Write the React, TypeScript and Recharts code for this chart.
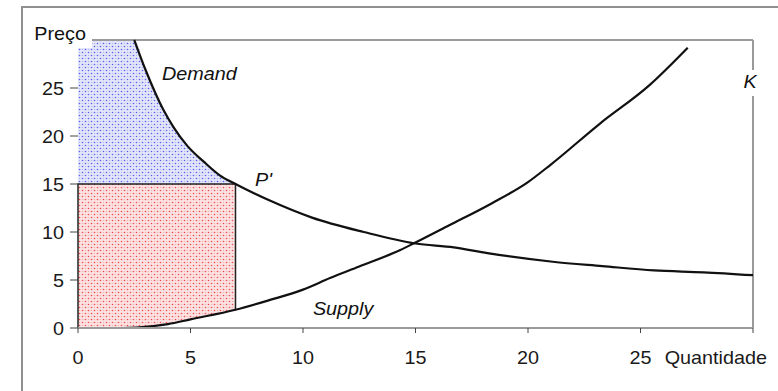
import {
  Area,
  ComposedChart,
  Line,
  ReferenceLine,
  Scatter,
  XAxis,
  YAxis,
} from 'recharts'

// demand curve (quantity, price)
const demandQty = [2.5, 3, 3.8, 4.25, 4.85, 5.6, 6.3, 7, 8.5, 10.4, 12.7, 15, 16.7, 18.2, 21.1, 23.3, 25.6, 27.8, 30]
const demandPrice = [30, 26.9, 22.7, 20.9, 19.0, 17.3, 15.9, 15, 13.3, 11.5, 10, 8.8, 8.4, 7.8, 6.9, 6.45, 6, 5.8, 5.5]

// supply curve (quantity, price)
const supplyQty = [0, 1, 2, 2.6, 4, 5, 7, 8.5, 10, 11.2, 12.5, 14.3, 15, 16.5, 18.4, 20, 21, 23.2, 25.4, 27.1]
const supplyPrice = [0, 0, 0, 0.05, 0.4, 0.9, 1.9, 2.9, 4, 5.2, 6.4, 8.1, 8.9, 10.7, 13, 15.2, 17, 21.3, 25.3, 29.2]

// price point P'
const pointQty = 7
const pointPrice = 15
const priceMax = 30

const xTicks = [0, 5, 10, 15, 20, 25, 30]
const yTicks = [0, 5, 10, 15, 20, 25]

type Note = { x: number; y: number; text: string; italic?: boolean; anchor: 'start' | 'middle' | 'end'; bg?: [number, number, number, number] }

const notes: Note[] = [
  { x: 0, y: 30, text: 'Preço', anchor: 'end', bg: [-48, -18, 62, 26] },
  { x: 3.73, y: 25.8, text: 'Demand', italic: true, anchor: 'start' },
  { x: 7.87, y: 14.8, text: "P'", italic: true, anchor: 'start' },
  { x: 10.44, y: 1.35, text: 'Supply', italic: true, anchor: 'start' },
  { x: 30, y: 25, text: 'K', italic: true, anchor: 'middle', bg: [-11, -18, 18, 26] },
]

const demandData = demandQty.map((x, i) => ({ x, y: demandPrice[i] }))
const supplyData = supplyQty.map((x, i) => ({ x, y: supplyPrice[i] }))

const consumerArea = [
  { x: 0, range: [pointPrice, priceMax] },
  ...demandData.filter((d) => d.x <= pointQty).map((d) => ({ x: d.x, range: [pointPrice, Math.min(priceMax, d.y)] })),
]
const producerArea = supplyData.filter((d) => d.x <= pointQty).map((d) => ({ x: d.x, range: [d.y, pointPrice] }))

const supplyAtPoint = supplyPrice[supplyQty.indexOf(pointQty)]
const boxData = [
  { x: 0, y: 0 },
  { x: 0, y: pointPrice },
  { x: pointQty, y: pointPrice },
  { x: pointQty, y: supplyAtPoint },
]

const FONT = '"Liberation Sans", Arial, sans-serif'
const FS = 18
const SX = 1.1

function XTick(props: { x?: number; y?: number; payload?: { value?: number } }) {
  const x = props.x ?? 0
  const y = props.y ?? 0
  const v = props.payload?.value
  const last = v === 30
  return (
    <text
      transform={`translate(${x + (last ? 14 : 0)},${y + 29}) scale(${SX},1)`}
      textAnchor={last ? 'end' : 'middle'}
      fill="#1a1a1a"
      fontSize={FS}
      fontFamily={FONT}
    >
      {last ? 'Quantidade' : String(v)}
    </text>
  )
}

function YTick(props: { x?: number; y?: number; payload?: { value?: number } }) {
  const x = props.x ?? 0
  const y = props.y ?? 0
  return (
    <text transform={`translate(${x},${y + 6.5}) scale(${SX},1)`} textAnchor="end" fill="#1a1a1a" fontSize={FS} fontFamily={FONT}>
      {String(props.payload?.value ?? '')}
    </text>
  )
}

function NoteShape(props: { cx?: number; cy?: number; payload?: Note }) {
  const cx = props.cx ?? 0
  const cy = props.cy ?? 0
  const n = props.payload
  if (!n) return <g />
  const dx = n.anchor === 'end' ? 8 : n.anchor === 'middle' ? -3 : 0
  return (
    <g>
      {n.bg && <rect x={cx + n.bg[0]} y={cy + n.bg[1]} width={n.bg[2]} height={n.bg[3]} fill="#fff" />}
      <text
        transform={`translate(${cx + dx},${cy}) scale(${SX},1)`}
        textAnchor={n.anchor}
        fill="#111"
        fontSize={FS}
        fontStyle={n.italic ? 'italic' : 'normal'}
        fontFamily={FONT}
      >
        {n.text}
      </text>
    </g>
  )
}

export default function App() {
  return (
    <div style={{ position: 'absolute', left: 0, top: 0, width: 778, height: 391, background: '#fff', overflow: 'hidden' }}>
      <div
        style={{
          position: 'absolute',
          left: 21,
          top: 6,
          width: 800,
          height: 420,
          borderLeft: '2px solid #909090',
          borderTop: '2px solid #909090',
        }}
      />
      <div style={{ position: 'absolute', left: 0, top: 0 }}>
        <ComposedChart width={778} height={391} margin={{ top: 40, right: 25, bottom: 33, left: 28 }}>
          <defs>
            <pattern id="bluePattern" width="6" height="6" patternUnits="userSpaceOnUse">
              <rect width="6" height="6" fill="#e3e5fb" />
              <circle cx="1.5" cy="1.5" r="0.8" fill="#5560ee" />
              <circle cx="4.5" cy="4.5" r="0.8" fill="#5560ee" />
              <circle cx="4.5" cy="1.5" r="0.6" fill="#a4aaf5" />
              <circle cx="1.5" cy="4.5" r="0.6" fill="#a4aaf5" />
            </pattern>
            <pattern id="redPattern" width="6" height="6" patternUnits="userSpaceOnUse">
              <rect width="6" height="6" fill="#fbe1e1" />
              <circle cx="1.5" cy="1.5" r="0.8" fill="#f04c4c" />
              <circle cx="4.5" cy="4.5" r="0.8" fill="#f04c4c" />
              <circle cx="4.5" cy="1.5" r="0.6" fill="#f5a4a4" />
              <circle cx="1.5" cy="4.5" r="0.6" fill="#f5a4a4" />
            </pattern>
          </defs>
          <XAxis
            type="number"
            dataKey="x"
            domain={[0, 30]}
            ticks={xTicks}
            height={30}
            axisLine={{ stroke: '#9a9a9a', strokeWidth: 2 }}
            tickLine={{ stroke: '#444' }}
            tickSize={5}
            tickMargin={2}
            tick={<XTick />}
          />
          <YAxis
            type="number"
            dataKey="y"
            domain={[0, 30]}
            ticks={yTicks}
            width={50}
            axisLine={false}
            tickLine={{ stroke: '#444' }}
            tickSize={8}
            tickMargin={6}
            tick={<YTick />}
          />
          <Area
            data={consumerArea}
            dataKey="range"
            type="monotone"
            stroke="none"
            fill="url(#bluePattern)"
            fillOpacity={1}
            isAnimationActive={false}
          />
          <Area
            data={producerArea}
            dataKey="range"
            type="monotone"
            stroke="none"
            fill="url(#redPattern)"
            fillOpacity={1}
            isAnimationActive={false}
          />
          <ReferenceLine y={30} stroke="#9a9a9a" strokeWidth={2} />
          <ReferenceLine x={30} stroke="#9a9a9a" strokeWidth={2} />
          <Line data={boxData} dataKey="y" type="linear" stroke="#222" strokeWidth={1.5} dot={false} isAnimationActive={false} />
          <Line data={demandData} dataKey="y" type="monotone" stroke="#111" strokeWidth={2.2} dot={false} isAnimationActive={false} />
          <Line data={supplyData} dataKey="y" type="monotone" stroke="#111" strokeWidth={2.2} dot={false} isAnimationActive={false} />
          <Scatter data={notes} dataKey="y" shape={<NoteShape />} isAnimationActive={false} />
        </ComposedChart>
      </div>
    </div>
  )
}
